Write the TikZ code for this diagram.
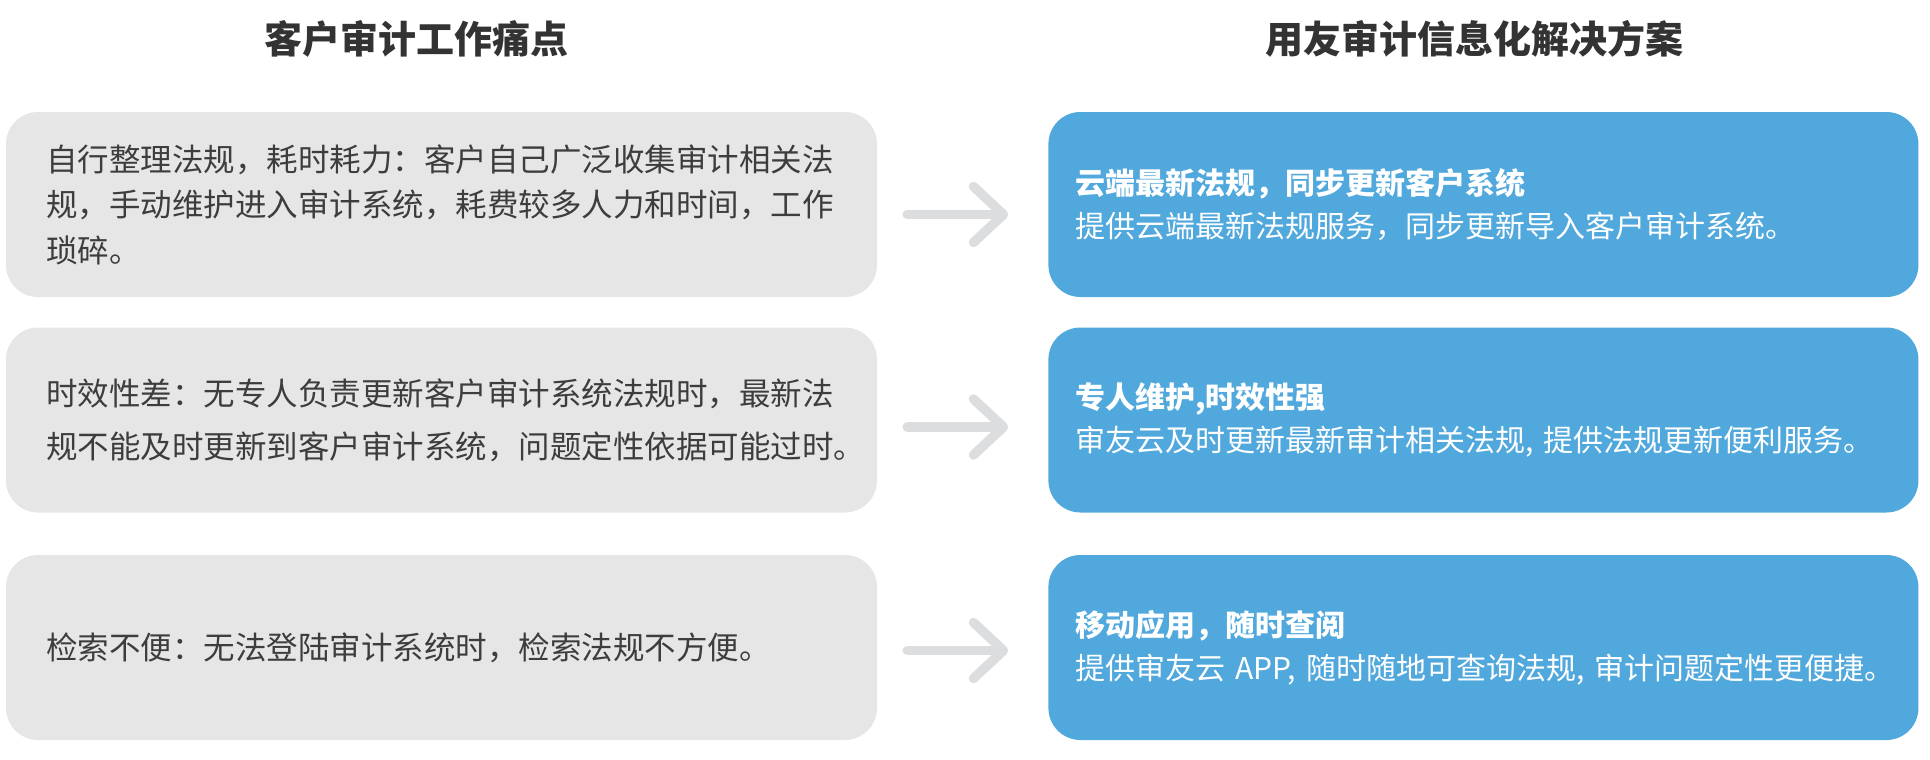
\documentclass[tikz,border=0pt]{standalone}
\usepackage{fontspec}
\setmainfont{Noto Sans CJK SC}
\usepackage{tikz}
\usetikzlibrary{positioning,arrows.meta}

\definecolor{titleink}{HTML}{333333}
\definecolor{painfill}{HTML}{E6E6E6}
\definecolor{painink}{HTML}{3D3D3D}
\definecolor{solfill}{HTML}{50A8DC}
\definecolor{arrowgray}{HTML}{DCDDDF}

\begin{document}
\begin{tikzpicture}[
        x=1pt,y=-1pt,
        heading/.style={
          font=\fontsize{38}{44}\selectfont\bfseries,
          text=titleink
        },
        painbox/.style={
          fill=painfill,
          rounded corners=32pt,
          minimum width=871pt,
          minimum height=185pt,
          inner xsep=40pt,
          inner ysep=0pt,
          text width=791pt,
          align=left,
          text=painink,
          font=\fontsize{31.5}{45.5}\selectfont
        },
        solbox/.style={
          fill=solfill,
          rounded corners=32pt,
          minimum width=870pt,
          minimum height=185pt,
          inner xsep=27pt,
          inner ysep=0pt,
          text width=816pt,
          align=left,
          text=white,
          font=\fontsize{30}{43}\selectfont
        },
        flow/.style={
          draw=arrowgray,
          line width=9.5pt,
          line cap=round,
          -{Straight Barb[length=30pt,width=56pt,round]}
        },
        node distance=171pt
        ]
        \useasboundingbox (0,0) rectangle (1930,760);

        \node[heading] (painhead) at (416,38.5) {客户审计工作痛点};
        \node[heading] (solhead) at (1474,38.5) {用友审计信息化解决方案};

        \node[painbox] (p1) at (441.5,204.5)
          {自行整理法规，耗时耗力：客户自己广泛收集审计相关法\\规，手动维护进入审计系统，耗费较多人力和时间，工作\\琐碎。};
        \node[painbox,font=\fontsize{31.5}{53}\selectfont] (p2) at (441.5,420)
          {时效性差：无专人负责更新客户审计系统法规时，最新法\\规不能及时更新到客户审计系统，问题定性依据可能过时。};
        \node[painbox] (p3) at (441.5,647.5)
          {检索不便：无法登陆审计系统时，检索法规不方便。};

        \node[solbox,right=of p1] (s1)
          {{\bfseries 云端最新法规，同步更新客户系统}\\提供云端最新法规服务，同步更新导入客户审计系统。};
        \node[solbox,right=of p2] (s2)
          {{\bfseries 专人维护,时效性强}\\审友云及时更新最新审计相关法规,~提供法规更新便利服务。};
        \node[solbox,right=of p3] (s3)
          {{\bfseries 移动应用，随时查阅}\\提供审友云~APP,~随时随地可查询法规,~审计问题定性更便捷。};

        \draw[flow] ([xshift=30pt,yshift=-10pt]p1.east) -- ([xshift=-40pt,yshift=-10pt]s1.west);
        \draw[flow] ([xshift=30pt,yshift=-7pt]p2.east) -- ([xshift=-40pt,yshift=-7pt]s2.west);
        \draw[flow] ([xshift=30pt,yshift=-3pt]p3.east) -- ([xshift=-40pt,yshift=-3pt]s3.west);
    \end{tikzpicture}
\end{document}
